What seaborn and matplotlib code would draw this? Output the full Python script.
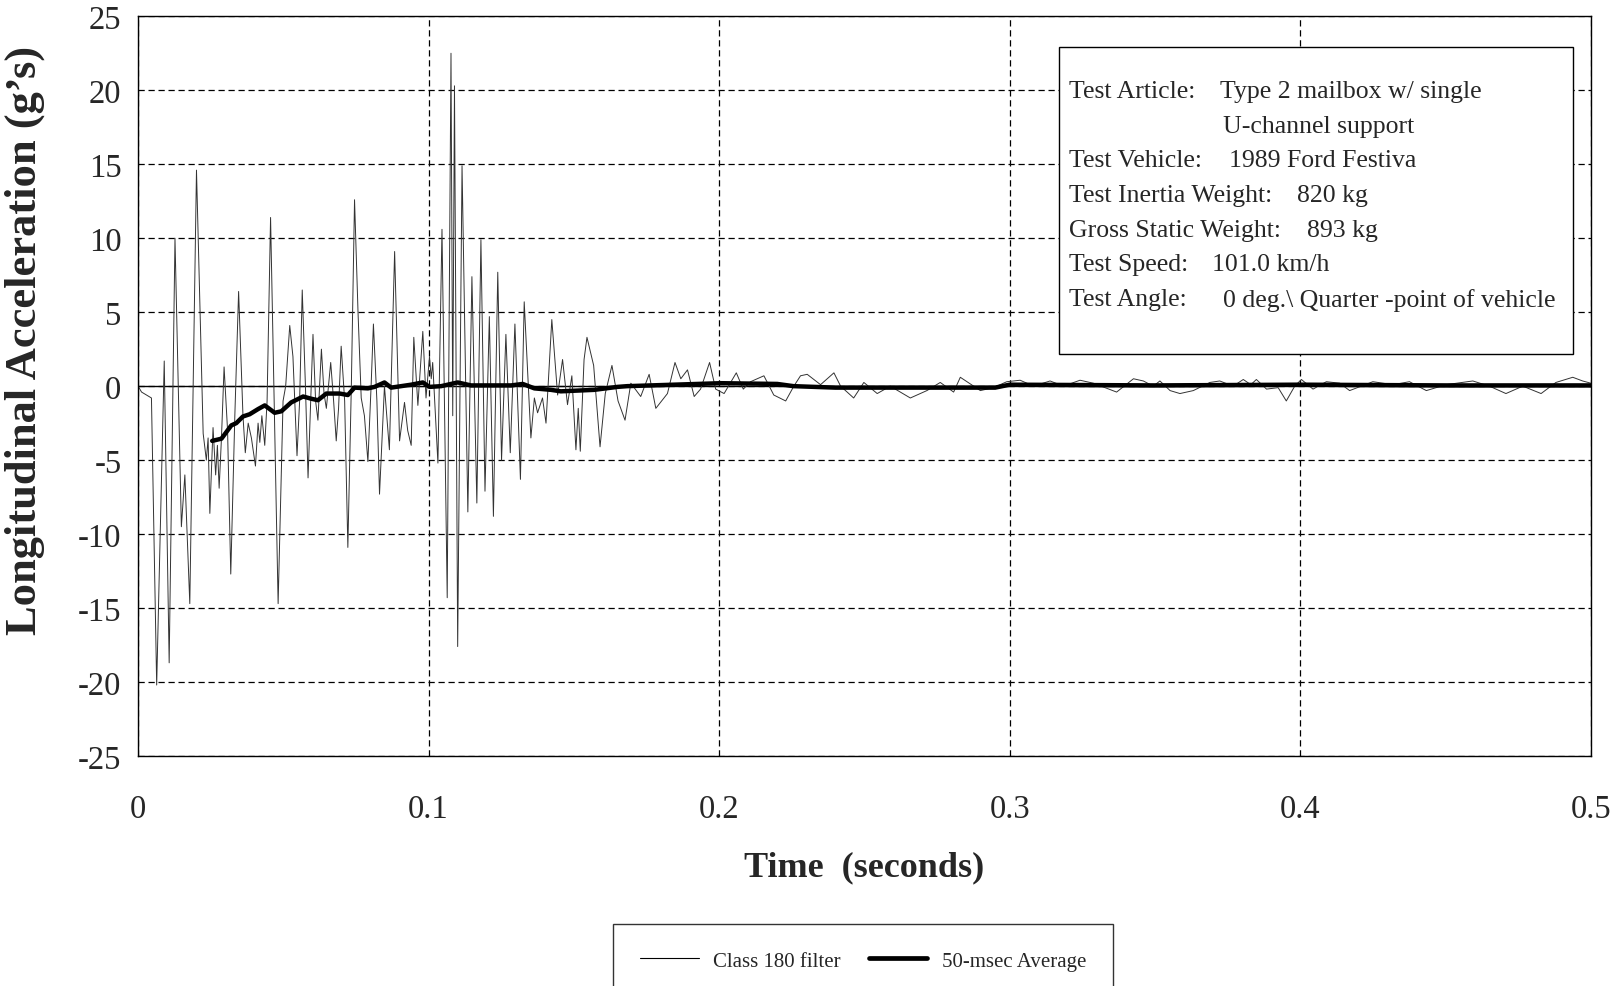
import numpy as np
import pandas as pd
import seaborn as sns
import matplotlib.pyplot as plt
from matplotlib.lines import Line2D
from matplotlib.patches import Rectangle

# Class 180 filtered trace (time in ms, acceleration in g's)
filter_ms = [0.0, 1.2, 4.6, 6.4, 9.0, 10.7, 12.7, 14.9, 16.1, 17.8, 20.1, 22.4, 23.5, 24.1, 24.7,
             25.8, 26.7, 27.3, 27.9, 28.7, 29.6, 30.8, 31.9, 33.3, 34.6, 36.1, 36.9, 37.9, 39.0,
             40.4, 41.3, 41.9, 42.6, 43.6, 44.4, 45.6, 48.2, 49.9, 50.8, 52.2, 53.3, 54.7, 55.6,
             56.5, 57.6, 58.5, 59.4, 60.2, 61.1, 61.9, 63.1, 64.0, 64.8, 66.3, 67.3, 68.2, 69.0,
             69.9, 71.1, 72.2, 73.4, 74.5, 75.7, 76.8, 77.9, 79.1, 80.2, 81.0, 82.2, 83.1, 84.8,
             86.5, 88.3, 90.0, 91.7, 92.8, 94.0, 94.9, 96.3, 98.0, 99.1, 100.3, 100.9, 101.4,
             103.2, 104.6, 106.4, 107.7, 108.3, 108.9, 110.0, 111.5, 113.5, 114.9, 116.6, 118.0,
             119.4, 120.9, 122.3, 123.8, 125.1, 126.6, 128.1, 129.7, 131.6, 132.9, 135.2, 136.4,
             137.5, 139.2, 140.4, 142.4, 144.4, 146.1, 147.8, 149.3, 150.7, 151.5, 152.2, 153.5,
             154.5, 156.8, 159.0, 160.8, 163.1, 165.2, 167.6, 169.6, 173.0, 175.9, 178.2, 182.2,
             184.8, 186.8, 189.1, 191.4, 193.6, 196.7, 198.8, 201.7, 205.9, 208.3, 210.8, 215.4,
             218.8, 222.9, 225.7, 228.0, 230.3, 234.9, 239.5, 241.8, 246.3, 249.8, 254.4, 258.9,
             265.8, 271.5, 276.1, 280.7, 283.0, 289.9, 294.4, 299.0, 303.6, 308.2, 313.9, 318.5,
             324.2, 328.8, 336.8, 342.6, 346.0, 349.4, 351.7, 355.2, 358.6, 363.2, 368.9, 372.3,
             376.9, 380.4, 383.0, 384.9, 388.4, 392.4, 395.2, 398.1, 400.4, 404.4, 409.0, 413.6,
             417.0, 425.0, 431.9, 437.6, 443.4, 450.2, 459.4, 465.1, 470.8, 476.6, 482.9, 488.0,
             493.8, 497.2, 500.0]
filter_g = [0.0, -0.4, -0.8, -20.2, 1.7, -18.7, 10.0, -9.5, -6.0, -14.7, 14.6, -3.2, -5.0, -3.5, -8.6,
            -2.8, -6.0, -4.0, -6.9, -3.5, 1.3, -3.0, -12.7, -2.0, 6.4, -2.0, -4.5, -2.5, -3.5,
            -5.4, -2.5, -3.8, -2.0, -4.0, -1.0, 11.4, -14.7, -1.0, 0.0, 4.1, 2.0, -4.7, -1.0,
            6.5, 0.0, -6.2, -1.0, 3.5, -1.0, -2.3, 2.5, -0.5, -1.5, 1.6, -1.0, -3.7, -1.5,
            2.7, -1.0, -10.9, 0.0, 12.6, 5.0, -0.8, -2.0, -5.1, 0.0, 4.2, -1.0, -7.3, 0.0,
            -4.3, 9.1, -3.7, -1.1, -3.0, -4.0, 3.3, -1.3, 3.7, -0.8, 2.0, 0.5, 1.6,
            -5.2, 10.6, -14.3, 22.5, -2.0, 20.3, -17.6, 14.9, -8.5, 7.4, -7.9, 9.9,
            -7.1, 4.7, -8.8, 7.7, -5.0, 3.5, -4.5, 4.2, -6.3, 5.7, -3.5, -0.8,
            -1.8, -0.8, -2.5, 4.5, -0.6, 1.8, -1.25, 0.7, -4.3, -1.5, -4.4, 1.8,
            3.3, 1.4, -4.1, -0.5, 1.4, -1.0, -2.3, 0.2, -0.7, 0.8, -1.5, -0.5,
            1.6, 0.5, 1.1, -0.7, -0.2, 1.6, -0.2, -0.5, 0.9, -0.2, 0.3, 0.7,
            -0.6, -1.0, 0.0, 0.7, 0.8, 0.1, 0.9, 0.0, -0.8, 0.25, -0.5, 0.0,
            -0.8, -0.3, 0.25, -0.4, 0.6, -0.3, -0.1, 0.3, 0.4, 0.0, 0.35, 0.0,
            0.4, 0.2, -0.4, 0.5, 0.35, 0.0, 0.35, -0.3, -0.5, -0.3, 0.25, 0.35,
            0.0, 0.45, 0.1, 0.45, -0.2, -0.1, -1.0, 0.0, 0.45, -0.2, 0.3, 0.2,
            -0.3, 0.3, 0.1, 0.3, -0.3, 0.1, 0.35, 0.0, -0.5, 0.0, -0.5, 0.25,
            0.6, 0.35, 0.2]

# 50-msec moving average
avg_ms = [25.5, 28.7, 32.1, 33.8, 36.1, 38.4, 41.3, 43.6, 47.0, 49.3, 52.7, 56.8, 59.6, 61.9,
          64.8, 69.4, 72.2, 74.5, 79.1, 81.4, 84.8, 87.1, 94.0, 98.0, 100.3, 104.3, 110.0,
          114.6, 128.4, 132.4, 136.4, 142.1, 145.5, 157.0, 165.0, 168.4, 200.6, 220.0, 225.6,
          240.0, 295.0, 300.0, 350.0, 400.0, 450.0, 500.0]
avg_g = [-3.7, -3.55, -2.65, -2.5, -2.05, -1.9, -1.55, -1.3, -1.8, -1.7, -1.1, -0.7, -0.85, -0.95,
         -0.5, -0.5, -0.6, -0.1, -0.15, -0.05, 0.25, -0.1, 0.1, 0.25, -0.05, 0.0, 0.25,
         0.05, 0.05, 0.15, -0.15, -0.25, -0.35, -0.25, -0.05, 0.0, 0.2, 0.15, 0.0,
         -0.1, -0.1, 0.1, 0.05, 0.1, 0.05, 0.05]

x_ticks = [0, 0.1, 0.2, 0.3, 0.4, 0.5]
x_ticklabels = ["0", "0.1", "0.2", "0.3", "0.4", "0.5"]
y_ticks = list(range(-25, 30, 5))

info_labels = ["Test Article:", "", "Test Vehicle:", "Test Inertia Weight:",
               "Gross Static Weight:", "Test Speed:", "Test Angle:"]
info_values = ["Type 2 mailbox w/ single", "U-channel support", "1989 Ford Festiva",
               "820 kg", "893 kg", "101.0 km/h", "0 deg.\\ Quarter -point of vehicle"]
info_value_x = [0.745, 0.747, 0.751, 0.798, 0.8045, 0.7394, 0.747]

df_f = pd.DataFrame({"t": np.array(filter_ms) / 1000, "g": filter_g})
df_a = pd.DataFrame({"t": np.array(avg_ms) / 1000, "g": avg_g})

sns.set_style("white")
plt.rcParams["font.family"] = ["Liberation Serif", "DejaVu Serif"]
plt.rcParams["axes.unicode_minus"] = False

fig = plt.figure(figsize=(16.15, 9.87), dpi=100)
ax = fig.add_axes([0.0855, 0.233, 0.8995, 0.7495])

sns.lineplot(data=df_f, x="t", y="g", ax=ax, color="#333333", linewidth=0.7,
             estimator=None, sort=False)
sns.lineplot(data=df_a, x="t", y="g", ax=ax, color="black", linewidth=3.2,
             estimator=None, sort=False)

ax.set_xlim(0, 0.5)
ax.set_ylim(-25, 25)
ax.set_xticks(x_ticks)
ax.set_xticklabels(x_ticklabels)
ax.set_yticks(y_ticks)
ax.tick_params(axis="both", direction="out", length=9, width=1, color="black",
               labelsize=23.5)
ax.tick_params(axis="x", pad=18)
ax.tick_params(axis="y", pad=3)
ax.grid(True, color="black", linestyle=(0, (5, 3)), linewidth=0.9)
ax.axhline(0, color="black", linewidth=1.0, zorder=1)
for s in ax.spines.values():
    s.set_color("black")
    s.set_linewidth(1.0)

ax.set_xlabel("Time  (seconds)", fontsize=26, fontweight="bold")
ax.xaxis.set_label_coords(0.5, -0.128)
ax.set_ylabel("Longitudinal Acceleration (g\u2019s)", fontsize=32, fontweight="bold")
ax.yaxis.set_label_coords(-0.064, 0.5635)

# info box
ax.add_patch(Rectangle((0.634, 0.543), 0.354, 0.415, transform=ax.transAxes,
                       facecolor="white", edgecolor="black", linewidth=1.0, zorder=5))
for i, (lab, val, vx) in enumerate(zip(info_labels, info_values, info_value_x)):
    y = 0.899 - i * 0.0469
    ax.text(0.6408, y, lab, transform=ax.transAxes, fontsize=18.5,
            va="center", ha="left", zorder=6)
    ax.text(vx, y, val, transform=ax.transAxes, fontsize=18.5,
            va="center", ha="left", zorder=6)

handles = [Line2D([], [], color="black", linewidth=0.8),
           Line2D([], [], color="black", linewidth=3.4)]
fig.legend(handles, ["Class 180 filter", "50-msec Average"], loc="upper center",
           bbox_to_anchor=(0.5345, 0.0628), ncol=2, fontsize=15, frameon=True,
           fancybox=False, edgecolor="black", handlelength=2.8, columnspacing=1.35,
           borderpad=1.3, handletextpad=0.7, borderaxespad=0)

fig.savefig("out.png", dpi=100)
